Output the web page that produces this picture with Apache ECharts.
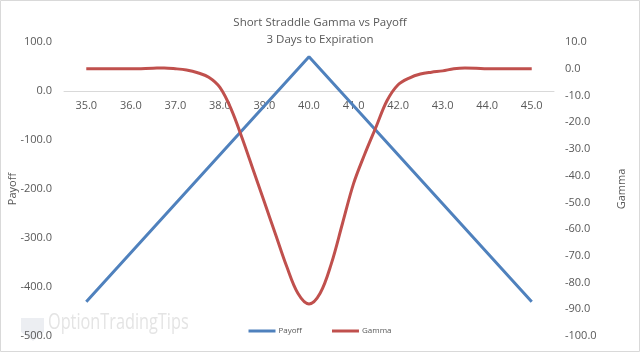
<!DOCTYPE html>
<html><head><meta charset="utf-8">
<script src="https://cdn.jsdelivr.net/npm/echarts@6/dist/echarts.min.js"></script>
<style>html,body{margin:0;padding:0;background:#fff}#c{width:640px;height:352px}</style>
</head><body><div id="c"></div>
<script>
const strikes = ['35.0','36.0','37.0','38.0','39.0','40.0','41.0','42.0','43.0','44.0','45.0'];
const payoff = [-430,-330,-230,-130,-30,70,-30,-130,-230,-330,-430];
const gammaX = [35,35.5,36,36.5,36.75,37,37.25,37.5,37.75,38,38.25,38.5,38.75,39,39.25,39.5,39.75,40,40.25,40.5,40.75,41,41.25,41.5,41.75,42,42.25,42.5,42.75,43,43.25,43.5,43.75,44,44.5,45];
const gammaY = [0,0,0,0.2,0.3,0,-0.5,-1.5,-3.2,-7,-15,-26,-38,-50,-62,-74,-84,-88,-84,-73,-58,-43,-32,-22,-12,-6,-3.5,-2,-1.3,-0.8,0,0.3,0.2,0,0,0];
const payoffTicks = {min:-500,max:100,interval:100};
const gammaTicks = {min:-100,max:10,interval:10};

const chart = echarts.init(document.getElementById('c'));
const txt = '#595959';
const font = 'Open Sans';
const gridBottom = 16;
chart.setOption({
  animation:false,
  textStyle:{fontFamily:font},
  title:{text:'Short Straddle Gamma vs Payoff\n3 Days to Expiration',left:'center',top:9,
    textStyle:{fontSize:11.5,fontWeight:'normal',color:txt,lineHeight:17,fontFamily:font}},
  graphic:[
    {type:'rect',shape:{x:0.5,y:0.5,width:639,height:351},style:{fill:'none',stroke:'#d9d9d9',lineWidth:1},silent:true},
    {type:'text',x:48,y:312,scaleX:0.74,style:{text:'OptionTradingTips',fontSize:22,fill:'#e4e4e4',fontFamily:'Open Sans'},z:-1,silent:true},
    {type:'polygon',shape:{points:[[21,318],[44,318],[44,332],[33,341],[21,332]]},style:{fill:'#eceef2'},z:-1,silent:true}
  ],
  legend:{bottom:12,left:'center',itemWidth:27,itemHeight:3,itemGap:30,icon:'rect',
    textStyle:{fontSize:8,color:txt,padding:[0,0,0,-2]},data:['Payoff','Gamma']},
  grid:{left:64,right:86,top:42,bottom:gridBottom,outerBoundsMode:'none',containLabel:false},
  xAxis:[
    {type:'category',data:strikes,boundaryGap:true,position:'bottom',offset:0,
     axisLine:{onZero:false,lineStyle:{color:'#d9d9d9',width:1}},
     axisTick:{show:false},axisLabel:{color:txt,fontSize:11,margin:9}},
    {type:'value',min:34.5,max:45.5,show:false,position:'top'}
  ],
  yAxis:[
    {type:'value',min:payoffTicks.min,max:payoffTicks.max,interval:payoffTicks.interval,
     name:'Payoff',nameLocation:'middle',nameGap:46,nameRotate:90,nameMoveOverlap:false,nameTextStyle:{color:txt,fontSize:11},
     axisLine:{show:false},axisTick:{show:false},splitLine:{show:false},
     axisLabel:{color:txt,fontSize:11,margin:12,formatter:v=>v.toFixed(1)}},
    {type:'value',min:gammaTicks.min,max:gammaTicks.max,interval:gammaTicks.interval,position:'right',
     name:'Gamma',nameLocation:'middle',nameGap:62,nameRotate:90,nameMoveOverlap:false,nameTextStyle:{color:txt,fontSize:11},
     axisLine:{show:false},axisTick:{show:false},splitLine:{show:false},
     axisLabel:{color:txt,fontSize:11,margin:11,formatter:v=>v.toFixed(1)}}
  ],
  series:[
    {name:'Payoff',type:'line',data:payoff,xAxisIndex:0,yAxisIndex:0,showSymbol:false,
     lineStyle:{color:'#4f81bd',width:3},itemStyle:{color:'#4f81bd'}},
    {name:'Gamma',type:'line',data:gammaX.map((x,i)=>[x,gammaY[i]]),xAxisIndex:1,yAxisIndex:1,showSymbol:false,smooth:0.35,
     lineStyle:{color:'#c0504d',width:3},itemStyle:{color:'#c0504d'}}
  ]
});
// place the category axis on the payoff zero line, derived from the y scale
const zeroY = chart.convertToPixel({yAxisIndex:0}, 0);
const bottomY = 352 - gridBottom;
chart.setOption({xAxis:[{offset:-(bottomY - zeroY)},{}]});
</script></body></html>
